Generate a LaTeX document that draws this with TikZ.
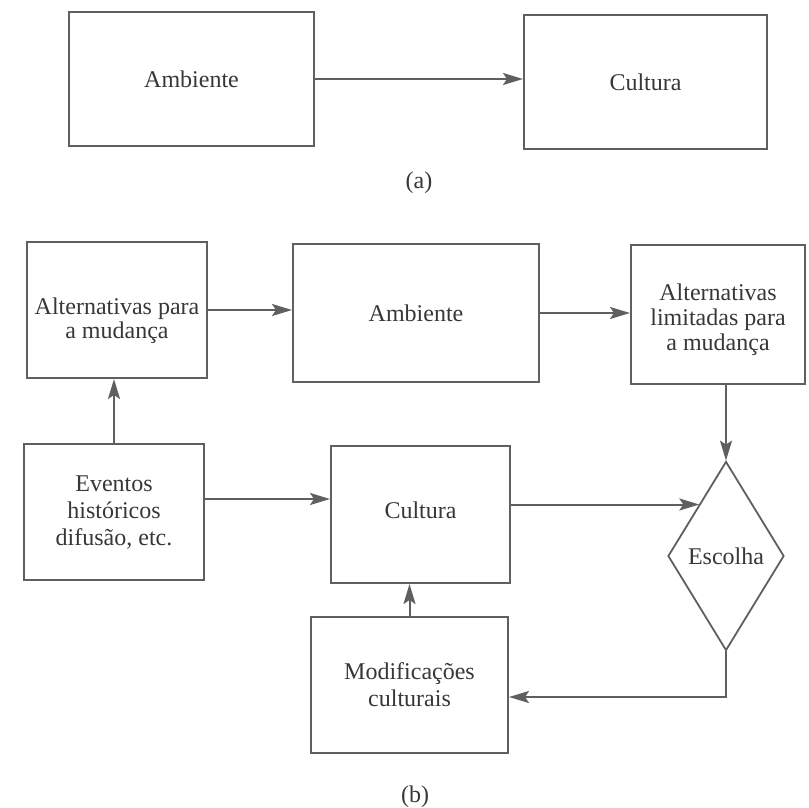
\documentclass[tikz,border=0pt]{standalone}
\usepackage{fontspec}
\setmainfont{Liberation Serif}
\usetikzlibrary{arrows.meta,shapes.geometric,calc}
\definecolor{lc}{RGB}{95,95,95}
\definecolor{tc}{RGB}{55,55,55}
\begin{document}
\begin{tikzpicture}[x=1pt,y=-1pt,
  box/.style={draw=lc,line width=2pt,rectangle,inner sep=2pt,align=center,text=tc,
    font=\fontsize{24}{27}\selectfont},
  dia/.style={draw=lc,line width=1.8pt,diamond,inner sep=0pt,text=tc,
    font=\fontsize{24}{27}\selectfont,minimum width=116pt,minimum height=189pt},
  arr/.style={draw=lc,line width=2pt,-{Stealth[length=20pt,width=12pt,inset=4pt]}},
  lbl/.style={text=tc,font=\fontsize{24}{27}\selectfont}]
\useasboundingbox (0,0) rectangle (808,808);
% (a)
\node[box,minimum width=245pt,minimum height=134pt] (A1) at (191.5,79) {Ambiente};
\node[box,minimum width=243pt,minimum height=134pt] (A2) at (645.5,82) {Cultura};
\draw[arr] (A1.east) -- (A1.east -| A2.west);
\node[lbl] (la) at (419,183) {(a)};
% (b)
\node[box,minimum width=180pt,minimum height=136pt] (B1) at (117,310) {};
\node[lbl,align=center] (B1t) at (117,321) {Alternativas para\\[-3pt]a mudança};
\node[box,minimum width=246pt,minimum height=138pt] (B2) at (416,313) {Ambiente};
\node[box,minimum width=174pt,minimum height=139pt] (B3) at (718,314.5) {};
\node[lbl,align=center] (B3t) at (718,320) {Alternativas\\[-2pt]limitadas para\\[-2pt]a mudança};
\node[box,minimum width=180pt,minimum height=136pt] (B4) at (114,512) {Eventos\\históricos\\difusão, etc.};
\node[box,minimum width=179pt,minimum height=137pt] (B5) at (420.5,514.5) {};
\node[lbl] (B5t) at (420.5,510) {Cultura};
\node[dia] (D) at (726,556) {Escolha};
\node[box,minimum width=197pt,minimum height=136pt] (B6) at (409.5,685) {Modificações\\culturais};
\node[lbl] (lb) at (415,797) {(b)};
\path (D.west) -- (D.north) coordinate[pos=0.547] (dIn);
\draw[arr] (B1.east) -- (B1.east -| B2.west);
\draw[arr] (B2.east) -- (B2.east -| B3.west);
\draw[arr] (B4.north) -- (B4.north |- B1.south);
\draw[arr] (B3.south -| D.north) -- (D.north);
\draw[arr] ([yshift=13pt]B4.east) -- ([yshift=13pt]B4.east -| B5.west);
\draw[arr] ([yshift=10pt]B5.east) -- ([yshift=10pt]B5.east -| dIn);
\draw[arr] (D.south) |- ([yshift=-12pt]B6.east);
\draw[arr] (B6.north) -- (B6.north |- B5.south);
\end{tikzpicture}
\end{document}
